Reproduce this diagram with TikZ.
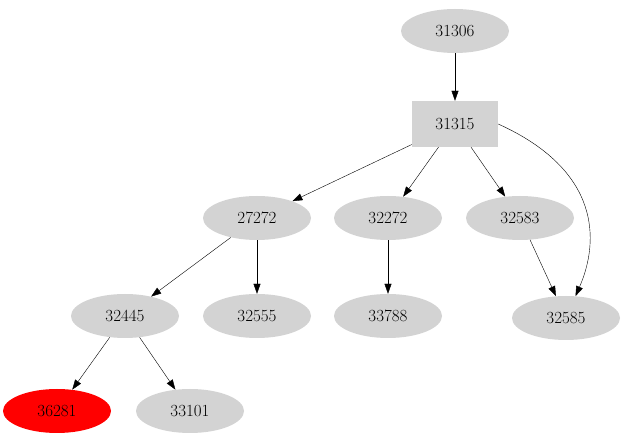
\documentclass[tikz,border=0pt]{standalone}
\usetikzlibrary{shapes.geometric, arrows.meta}
\definecolor{mygri1}{RGB}{211,211,211}
\tikzstyle{job} = [ellipse, minimum width=108, minimum height=44, inner sep=0, fill=mygri1, text=black, font=\fontsize{17}{19}\selectfont]
\tikzstyle{root} = [rectangle, minimum width=86, minimum height=46, inner sep=0, fill=mygri1, text=black, font=\fontsize{17}{19}\selectfont]
\tikzstyle{fail} = [job, fill=red]
\tikzstyle{dep} = [-{Triangle[length=10,width=7]}, black]

\begin{document}
\begin{tikzpicture}[x=1pt,y=-1pt]
	\useasboundingbox (0,0) rectangle (625,443);
	\node (n31306)[job] at (455,31) {31306};
	\node (n31315)[root] at (455,124) {31315};
	\node (n27272)[job] at (257,218) {27272};
	\node (n32272)[job] at (388,218) {32272};
	\node (n32583)[job] at (520,218) {32583};
	\node (n32445)[job] at (125,316) {32445};
	\node (n32555)[job] at (257,316) {32555};
	\node (n33788)[job] at (388,316) {33788};
	\node (n32585)[job] at (566,318) {32585};
	\node (n36281)[fail] at (57,411) {36281};
	\node (n33101)[job] at (190,411) {33101};
	\draw [dep] (n31306) -- (n31315);
	\draw [dep] (n31315) -- (n27272);
	\draw [dep] (n31315) -- (n32272);
	\draw [dep] (n31315) -- (n32583);
	\draw [dep] (n31315.east) .. controls (600,170) and (600,240) .. (n32585);
	\draw [dep] (n27272) -- (n32445);
	\draw [dep] (n27272) -- (n32555);
	\draw [dep] (n32272) -- (n33788);
	\draw [dep] (n32583) -- (n32585);
	\draw [dep] (n32445) -- (n36281);
	\draw [dep] (n32445) -- (n33101);
\end{tikzpicture}
\end{document}
